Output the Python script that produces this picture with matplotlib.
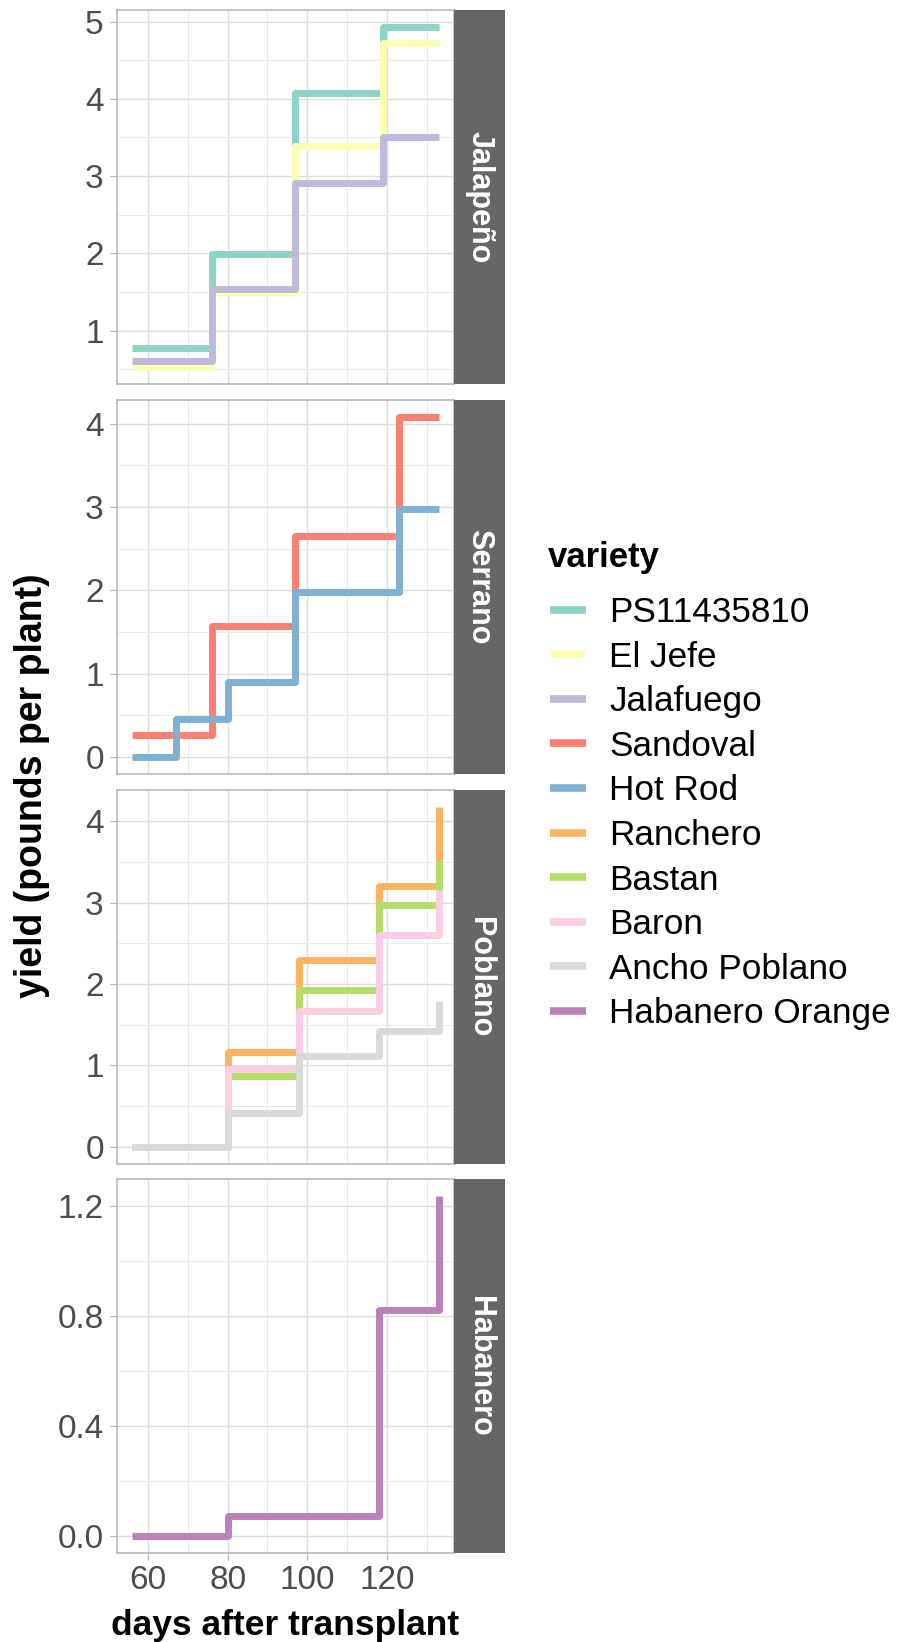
import matplotlib
matplotlib.use('Agg')
import matplotlib.pyplot as plt
from matplotlib.lines import Line2D

plt.rcParams['font.family'] = ['Liberation Sans', 'DejaVu Sans']

# ---------------- data ----------------
varieties = ['PS11435810', 'El Jefe', 'Jalafuego', 'Sandoval', 'Hot Rod',
             'Ranchero', 'Bastan', 'Baron', 'Ancho Poblano', 'Habanero Orange']
colors = ['#8DD3C7', '#FFFFB3', '#BEBADA', '#FB8072', '#80B1D3',
          '#FDB462', '#B3DE69', '#FCCDE5', '#D9D9D9', '#BC80BD']
panels = ['Jalapeño', 'Serrano', 'Poblano', 'Habanero']

jalapeno_days = [56, 76, 97, 119, 133]
ps11435810 = [0.78, 1.99, 4.07, 4.93, 4.93]
el_jefe = [0.53, 1.50, 3.39, 4.72, 4.72]
jalafuego = [0.61, 1.54, 2.91, 3.51, 3.51]

sandoval_days = [56, 76, 97, 123, 133]
sandoval = [0.26, 1.57, 2.65, 4.08, 4.08]
hot_rod_days = [56, 67, 80, 97, 123, 133]
hot_rod = [0.0, 0.45, 0.90, 1.98, 2.98, 2.98]

poblano_days = [56, 80, 98, 118, 133]
ranchero = [0.0, 1.16, 2.30, 3.20, 4.18]
bastan = [0.0, 0.87, 1.93, 2.97, 3.51]
baron = [0.0, 0.95, 1.67, 2.60, 3.15]
ancho_poblano = [0.0, 0.42, 1.12, 1.42, 1.79]

habanero_days = [56, 80, 118, 133]
habanero_orange = [0.0, 0.074, 0.823, 1.237]

x_ticks = [60, 80, 100, 120]
x_minor = [70, 90, 110, 130]
y_ticks = [[1, 2, 3, 4, 5], [0, 1, 2, 3, 4], [0, 1, 2, 3, 4], [0.0, 0.4, 0.8, 1.2]]
y_ticklabels = [['1', '2', '3', '4', '5'], ['0', '1', '2', '3', '4'],
                ['0', '1', '2', '3', '4'], ['0.0', '0.4', '0.8', '1.2']]
y_minor = [[0.5, 1.5, 2.5, 3.5, 4.5], [0.5, 1.5, 2.5, 3.5], [0.5, 1.5, 2.5, 3.5],
           [0.2, 0.6, 1.0]]

panel_series = [
    [('PS11435810', jalapeno_days, ps11435810),
     ('El Jefe', jalapeno_days, el_jefe),
     ('Jalafuego', jalapeno_days, jalafuego)],
    [('Sandoval', sandoval_days, sandoval),
     ('Hot Rod', hot_rod_days, hot_rod)],
    [('Ranchero', poblano_days, ranchero),
     ('Bastan', poblano_days, bastan),
     ('Baron', poblano_days, baron),
     ('Ancho Poblano', poblano_days, ancho_poblano)],
    [('Habanero Orange', habanero_days, habanero_orange)],
]

# ---------------- layout ----------------
W, H = 899, 1642
fig = plt.figure(figsize=(W / 100, H / 100), dpi=100)
fig.patch.set_facecolor('white')

left_px, right_px, strip_px = 116.7, 454.0, 505.0
panel_tops = [10.0, 400.0, 789.7, 1179.3]
panel_h = 374.0

all_x = [d for ser in panel_series for (_, d, _) in ser]
xmin = min(min(d) for d in all_x)
xmax = max(max(d) for d in all_x)
xr = xmax - xmin
xlim = (xmin - 0.05 * xr, xmax + 0.05 * xr)

grid_major = '#DEDEDE'
grid_minor = '#EBEBEB'
border = '#B3B3B3'
tick_col = '#4D4D4D'
tick_size = 24

for i, (name, series) in enumerate(zip(panels, panel_series)):
    top = panel_tops[i]
    ax = fig.add_axes([left_px / W, 1 - (top + panel_h) / H,
                       (right_px - left_px) / W, panel_h / H])
    ys = [v for (_, _, vals) in series for v in vals]
    ymin, ymax = min(ys), max(ys)
    yr = ymax - ymin
    ax.set_xlim(*xlim)
    ax.set_ylim(ymin - 0.05 * yr, ymax + 0.05 * yr)

    ax.set_xticks(x_ticks)
    ax.set_xticks(x_minor, minor=True)
    ax.set_yticks(y_ticks[i])
    ax.set_yticklabels(y_ticklabels[i])
    ax.set_yticks(y_minor[i], minor=True)

    ax.grid(which='major', color=grid_major, lw=1.0, zorder=0)
    ax.grid(which='minor', color=grid_minor, lw=0.7, zorder=0)
    ax.set_axisbelow(True)

    for sp in ax.spines.values():
        sp.set_color(border)
        sp.set_linewidth(1.1)

    ax.tick_params(axis='y', which='major', length=4.8, width=0.8, color=border,
                   labelsize=tick_size, labelcolor=tick_col, pad=4.5)
    ax.tick_params(which='minor', length=0)
    if i == len(panels) - 1:
        ax.tick_params(axis='x', which='major', length=4.8, width=0.8, color=border,
                       labelsize=tick_size, labelcolor=tick_col, pad=3.5)
    else:
        ax.tick_params(axis='x', which='major', length=0, labelbottom=False)

    for z, (var, days, vals) in enumerate(series):
        c = colors[varieties.index(var)]
        ax.step(days, vals, where='post', color=c, lw=5.0,
                solid_capstyle='butt', solid_joinstyle='round', zorder=3 + z)

    # strip
    sax = fig.add_axes([right_px / W, 1 - (top + panel_h) / H,
                        (strip_px - right_px) / W, panel_h / H])
    sax.set_facecolor('#666666')
    sax.set_xticks([])
    sax.set_yticks([])
    for sp in sax.spines.values():
        sp.set_visible(False)
    sax.text(0.5, 0.5, name, rotation=-90, ha='center', va='center',
             color='white', fontsize=22, fontweight='bold', transform=sax.transAxes)

# axis titles
fig.text(((left_px + right_px) / 2) / W, 1 - 1635 / H, 'days after transplant',
         ha='center', va='baseline', fontsize=25.5, fontweight='bold', color='black')
fig.text(32 / W, 1 - 786 / H, 'yield (pounds per plant)', rotation=90,
         ha='center', va='center', fontsize=27, fontweight='bold', color='black')

# legend
fig.text(548 / W, 1 - 566.5 / H, 'variety', ha='left', va='baseline',
         fontsize=25, fontweight='bold', color='black')
handles = [Line2D([0], [0], color=c, lw=5.5, solid_capstyle='butt') for c in colors]
leg = fig.legend(handles, varieties, loc='upper left',
                 bbox_to_anchor=(550 / W, 1 - 596 / H), frameon=False,
                 fontsize=25.3, handlelength=1.02, handletextpad=0.66,
                 labelspacing=0.33, borderpad=0, borderaxespad=0)

fig.savefig('out.png', dpi=100)
